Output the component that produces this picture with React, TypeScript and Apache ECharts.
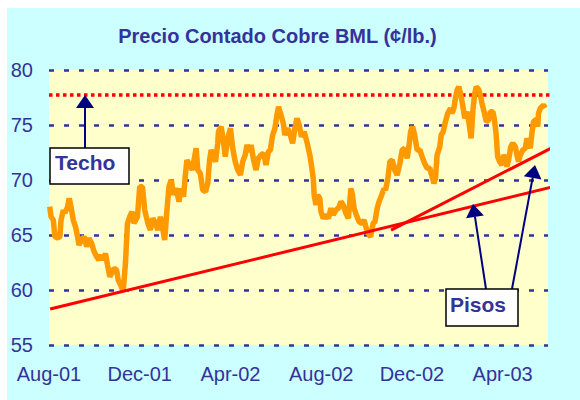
import React, { useEffect, useRef } from "react";
import * as echarts from "echarts";

// x = months since 1 Aug 2001, y = price (¢/lb)
const monthIdx = [
  0.03, 0.09, 0.19, 0.26, 0.38, 0.48, 0.53, 0.63, 0.7, 0.82, 0.89, 0.97, 1.07, 1.17, 1.26, 1.32, 1.44, 1.55, 1.66, 1.76,
  1.88, 1.99, 2.1, 2.2, 2.29, 2.39, 2.49, 2.58, 2.68, 2.76, 2.87, 2.98, 3.05, 3.16, 3.27, 3.37, 3.46, 3.56, 3.66, 3.75,
  3.9, 4.0, 4.12, 4.22, 4.36, 4.47, 4.58, 4.7, 4.8, 4.91, 5.0, 5.1, 5.2, 5.29, 5.39, 5.49, 5.61, 5.73, 5.83, 5.93,
  6.02, 6.08, 6.2, 6.32, 6.42, 6.49, 6.56, 6.67, 6.78, 6.9, 7.0, 7.08, 7.15, 7.25, 7.34, 7.44, 7.47, 7.59, 7.71, 7.77,
  7.88, 8.0, 8.1, 8.21, 8.32, 8.44, 8.54, 8.65, 8.73, 8.84, 8.91, 9.02, 9.13, 9.23, 9.35, 9.46, 9.57, 9.67, 9.76, 9.86,
  9.96, 10.05, 10.12, 10.23, 10.33, 10.4, 10.52, 10.64, 10.74, 10.84, 10.93, 11.03, 11.13, 11.25, 11.37, 11.5, 11.59, 11.65, 11.69, 11.77,
  11.84, 11.94, 11.99, 12.09, 12.21, 12.32, 12.43, 12.53, 12.65, 12.76, 12.87, 12.97, 13.09, 13.2, 13.31, 13.38, 13.45, 13.55, 13.67, 13.79,
  13.89, 13.99, 14.11, 14.18, 14.29, 14.37, 14.47, 14.55, 14.67, 14.77, 14.84, 14.95, 15.03, 15.13, 15.24, 15.35, 15.47, 15.57, 15.68, 15.79,
  15.87, 15.94, 16.03, 16.12, 16.23, 16.35, 16.45, 16.56, 16.67, 16.79, 16.89, 16.97, 17.04, 17.11, 17.23, 17.29, 17.38, 17.48, 17.58, 17.7,
  17.77, 17.85, 17.92, 17.99, 18.07, 18.17, 18.25, 18.33, 18.43, 18.52, 18.61, 18.69, 18.77, 18.84, 18.95, 19.02, 19.09, 19.2, 19.28, 19.38,
  19.46, 19.57, 19.63, 19.71, 19.78, 19.87, 19.97, 20.04, 20.12, 20.19, 20.26, 20.36, 20.45, 20.56, 20.63, 20.7, 20.78, 20.89, 21.0, 21.07,
  21.14, 21.22, 21.29, 21.36, 21.48, 21.55, 21.58, 21.66, 21.73, 21.8, 21.88,
];
const prices = [
  67.57, 66.66, 66.36, 64.85, 64.73, 64.85, 66.36, 67.27, 67.0, 67.57, 68.34, 67.57, 66.36, 65.75, 64.85, 64.09, 64.55, 64.85, 63.94, 64.7,
  64.24, 63.48, 63.03, 62.73, 63.18, 62.73, 63.33, 62.27, 61.21, 61.52, 61.97, 61.82, 60.91, 60.45, 59.85, 62.43, 66.06, 66.66, 67.12, 66.06,
  66.66, 69.39, 69.39, 67.27, 66.06, 65.45, 66.52, 66.06, 65.45, 66.66, 65.75, 64.55, 67.27, 69.39, 70.0, 68.64, 69.24, 68.03, 69.24, 68.48,
  70.61, 71.82, 71.36, 70.91, 72.12, 72.88, 70.91, 70.61, 69.09, 68.94, 69.7, 71.82, 72.73, 72.12, 71.67, 73.34, 74.39, 74.85, 73.18, 72.12,
  73.79, 74.7, 72.88, 71.67, 70.91, 70.45, 71.67, 72.27, 73.18, 72.57, 73.18, 71.82, 70.91, 71.97, 72.27, 72.43, 71.36, 72.57, 72.73, 74.09,
  74.7, 75.91, 76.66, 75.91, 75.15, 74.09, 74.7, 74.09, 73.34, 74.7, 75.61, 75.0, 73.94, 74.39, 73.48, 72.27, 71.06, 70.15, 68.64, 67.73,
  68.64, 68.34, 67.12, 66.52, 66.82, 66.52, 67.43, 66.82, 67.27, 67.43, 68.03, 67.73, 66.97, 66.52, 69.24, 68.64, 67.43, 66.82, 66.21, 66.06,
  66.36, 65.61, 65.0, 64.85, 66.06, 66.21, 67.43, 68.03, 68.64, 69.24, 69.09, 70.3, 71.67, 71.82, 70.91, 70.45, 71.52, 72.73, 72.88, 71.97,
  73.03, 74.39, 74.85, 74.09, 72.73, 72.73, 72.12, 71.52, 71.06, 71.06, 70.3, 69.7, 70.15, 72.27, 73.03, 74.09, 74.39, 75.3, 76.06, 76.52,
  76.06, 76.52, 77.43, 78.18, 78.48, 77.57, 76.66, 75.61, 76.21, 75.15, 73.79, 76.36, 77.88, 78.48, 78.18, 77.73, 76.97, 76.06, 75.3, 75.45,
  76.21, 76.21, 75.61, 74.24, 72.12, 71.67, 71.36, 72.27, 71.97, 71.21, 71.82, 73.03, 73.34, 73.03, 72.27, 71.67, 72.27, 72.73, 72.88, 73.79,
  73.34, 72.88, 74.24, 75.3, 75.52, 74.85, 76.06, 76.52, 76.66, 76.82, 76.55,
];

const tickLabels = ["Aug-01", "Dec-01", "Apr-02", "Aug-02", "Dec-02", "Apr-03"];

// Trend lines [month, price]
const ceilingLine = [[0, 77.73], [22.15, 77.73]];
const floorLine1 = [[0.05, 58.27], [22.15, 69.35]];
const floorLine2 = [[15.08, 65.45], [22.15, 72.91]];

const FONT = 'Arial, "Liberation Sans", sans-serif';
const NAVY = "#000080";
const TXT = "#333399";
const OX = 7;
const OY = 8;
const P = (x: number, y: number) => [x - OX, y - OY];

function arrow(x1: number, y1: number, tx: number, ty: number) {
  const dx = tx - x1;
  const dy = ty - y1;
  const len = Math.sqrt(dx * dx + dy * dy);
  const ux = dx / len;
  const uy = dy / len;
  const hl = 13;
  const hw = 9;
  const bx = tx - ux * hl;
  const by = ty - uy * hl;
  const px = -uy;
  const py = ux;
  return [
    {
      type: "line",
      shape: { x1: x1 - OX, y1: y1 - OY, x2: bx - OX, y2: by - OY },
      style: { stroke: NAVY, lineWidth: 2 },
      z: 100,
    },
    {
      type: "polygon",
      shape: {
        points: [P(tx, ty), P(bx + px * hw, by + py * hw), P(bx - px * hw, by - py * hw)],
      },
      style: { fill: NAVY },
      z: 100,
    },
  ];
}

function box(x: number, y: number, w: number, h: number, label: string, tx: number, ty: number) {
  return [
    {
      type: "rect",
      shape: { x: x - OX, y: y - OY, width: w, height: h },
      style: { fill: "#FFFFFF", stroke: "#000000", lineWidth: 1.5 },
      z: 101,
    },
    {
      type: "text",
      x: tx - OX,
      y: ty - OY,
      style: {
        text: label,
        fill: TXT,
        font: `bold 21px ${FONT}`,
        textAlign: "left",
        textVerticalAlign: "middle",
      },
      z: 102,
    },
  ];
}

export default function App() {
  const ref = useRef<HTMLDivElement>(null);
  useEffect(() => {
    if (!ref.current) return;
    const chart = echarts.init(ref.current, undefined, { renderer: "svg" });
    const priceData = monthIdx.map((m, i) => [m, prices[i]]);
    chart.setOption({
      animation: false,
      backgroundColor: "#CCFFFF",
      title: {
        text: "Precio Contado Cobre BML (¢/lb.)",
        left: 272.5 - OX,
        top: 13,
        textAlign: "center",
        textStyle: { fontSize: 20, fontWeight: "bold", color: TXT, fontFamily: FONT },
      },
      grid: {
        left: 49 - OX,
        right: 32,
        top: 70 - OY,
        bottom: 55,
        show: true,
        backgroundColor: "#FFFFCC",
        borderWidth: 0,
      },
      xAxis: {
        type: "value",
        min: 0,
        max: 22,
        interval: 4,
        axisLine: { show: false },
        axisTick: { show: false },
        splitLine: { show: false },
        axisLabel: {
          margin: 19,
          fontSize: 20,
          color: TXT,
          fontFamily: FONT,
          showMaxLabel: false,
          formatter: (v: number) => (v % 4 === 0 ? tickLabels[v / 4] ?? "" : ""),
        },
      },
      yAxis: {
        type: "value",
        min: 55,
        max: 80,
        interval: 5,
        axisLine: { show: false },
        axisTick: { show: false },
        axisLabel: { margin: 16, fontSize: 20, color: TXT, fontFamily: FONT },
        splitLine: { lineStyle: { color: TXT, width: 2.5, type: [5, 10] } },
      },
      series: [
        {
          type: "line",
          data: ceilingLine,
          showSymbol: false,
          clip: false,
          lineStyle: { color: "#FF0000", width: 3.5, type: [3.5, 3.5] },
          z: 2,
        },
        {
          type: "line",
          data: priceData,
          showSymbol: false,
          lineStyle: { color: "#FF9900", width: 5.5 },
          z: 3,
        },
        {
          type: "line",
          data: floorLine1,
          showSymbol: false,
          clip: false,
          lineStyle: { color: "#FF0000", width: 3 },
          z: 4,
        },
        {
          type: "line",
          data: floorLine2,
          showSymbol: false,
          clip: false,
          lineStyle: { color: "#FF0000", width: 3 },
          z: 4,
        },
      ],
      graphic: [
        ...arrow(85, 148, 85, 95),
        ...arrow(486, 289, 473, 204),
        ...arrow(512, 289, 535, 165),
        ...box(50, 148, 79, 36, "Techo", 55, 162),
        ...box(446, 289, 72, 37, "Pisos", 450, 304),
      ],
    });
    return () => chart.dispose();
  }, []);
  return (
    <div
      ref={ref}
      style={{ position: "absolute", left: OX, top: OY, width: 580 - OX, height: 400 - OY }}
    />
  );
}
